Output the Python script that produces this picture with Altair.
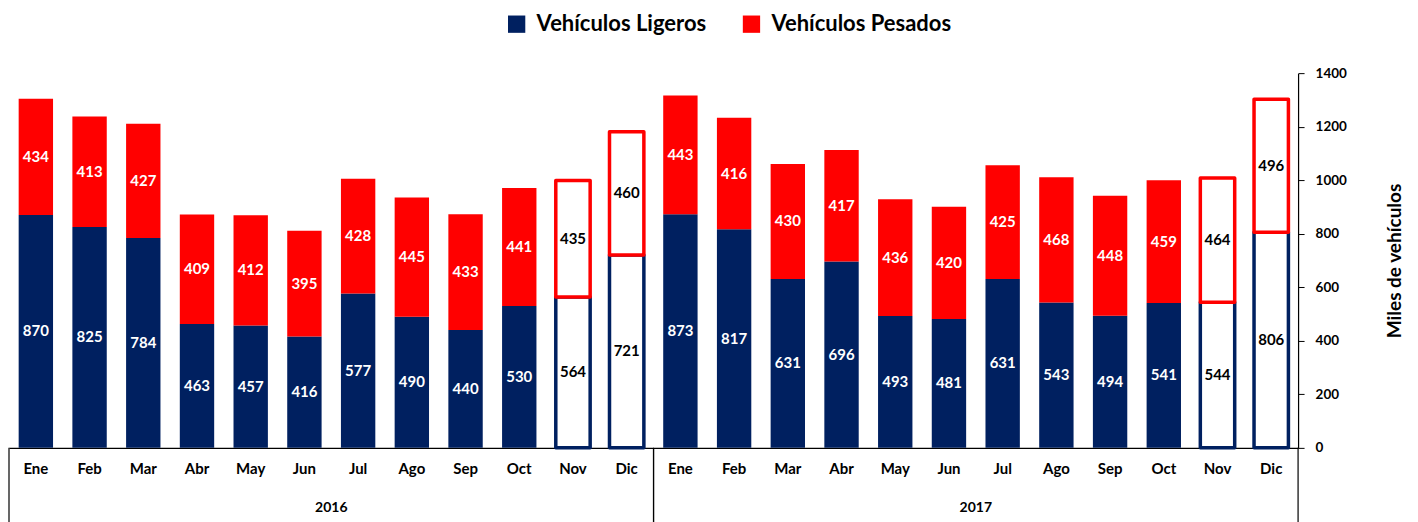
import altair as alt
import pandas as pd

meses = ["Ene", "Feb", "Mar", "Abr", "May", "Jun", "Jul", "Ago", "Sep", "Oct", "Nov", "Dic"]
anios = ["2016", "2017"]
ligeros_2016 = [870, 825, 784, 463, 457, 416, 577, 490, 440, 530, 564, 721]
pesados_2016 = [434, 413, 427, 409, 412, 395, 428, 445, 433, 441, 435, 460]
ligeros_2017 = [873, 817, 631, 696, 493, 481, 631, 543, 494, 541, 544, 806]
pesados_2017 = [443, 416, 430, 417, 436, 420, 425, 468, 448, 459, 464, 496]
meses_huecos = ["Nov", "Dic"]
series = ["Vehículos Ligeros", "Vehículos Pesados"]
colores = ["#002060", "#FF0000"]
y_ticks = [0, 200, 400, 600, 800, 1000, 1200, 1400]

FONT = "Lato"
W, H = 1290, 375

datos = {"2016": (ligeros_2016, pesados_2016), "2017": (ligeros_2017, pesados_2017)}
rows = []
keys = []
for anio in anios:
    lig, pes = datos[anio]
    for i, mes in enumerate(meses):
        key = f"{anio}-{mes}"
        keys.append(key)
        hueco = mes in meses_huecos
        rows.append(dict(key=key, serie=series[0], inicio=0, fin=lig[i], valor=lig[i],
                         medio=lig[i] / 2, hueco=hueco))
        rows.append(dict(key=key, serie=series[1], inicio=lig[i], fin=lig[i] + pes[i], valor=pes[i],
                         medio=lig[i] + pes[i] / 2, hueco=hueco))
df = pd.DataFrame(rows)
df_anios = pd.DataFrame({"anio": anios})

x_enc = alt.X(
    "key:N",
    sort=keys,
    scale=alt.Scale(domain=keys, paddingInner=0.36, paddingOuter=0.18),
    axis=alt.Axis(
        title=None,
        labelExpr="split(datum.label, '-')[1]",
        labelFont=FONT, labelFontSize=15, labelFontWeight="bold", labelColor="black",
        labelPadding=14, labelAngle=0, ticks=False, domainColor="black", domainWidth=1.2,
    ),
)
y_enc = alt.Y(
    "inicio:Q",
    scale=alt.Scale(domain=[0, 1400], nice=False),
    axis=alt.Axis(
        orient="right", values=y_ticks, grid=False, format="d",
        title="Miles de vehículos", titleFont=FONT, titleFontSize=19, titleFontWeight="bold",
        titleAngle=270, titlePadding=58, titleColor="black",
        labelFont=FONT, labelFontSize=13.5, labelFontWeight="bold", labelColor="black",
        labelPadding=11, tickSize=6, tickColor="black", domainColor="black", domainWidth=1.2,
    ),
)
color_scale = alt.Scale(domain=series, range=colores)

base = alt.Chart(df)

llenas = base.transform_filter("!datum.hueco").mark_bar().encode(
    x=x_enc,
    y=y_enc,
    y2="fin:Q",
    color=alt.Color(
        "serie:N", scale=color_scale, sort=series,
        legend=alt.Legend(
            title=None, orient="none", legendX=497, legendY=-60, direction="horizontal",
            symbolType="square", symbolSize=300, symbolStrokeWidth=0,
            labelFont=FONT, labelFontSize=22, labelFontWeight="bold", labelColor="black",
            labelOffset=9, columnPadding=34, labelLimit=0,
        ),
    ),
)

huecas = base.transform_filter("datum.hueco").mark_bar(
    fill="white", strokeWidth=3.5, strokeJoin="round"
).encode(
    x=alt.X("key:N", sort=keys),
    y="inicio:Q",
    y2="fin:Q",
    stroke=alt.Stroke("serie:N", scale=color_scale, legend=None),
)

textos = base.mark_text(font=FONT, fontSize=15, fontWeight="bold").encode(
    x=alt.X("key:N", sort=keys),
    y=alt.Y("medio:Q"),
    text=alt.Text("valor:Q"),
    color=alt.condition("datum.hueco", alt.value("black"), alt.value("white")),
)

barras = alt.layer(llenas, huecas, textos)

anio_base = alt.Chart(df_anios)
sep_izq = anio_base.mark_rule(color="black", strokeWidth=1.2).encode(
    x=alt.X("anio:N", bandPosition=0, scale=alt.Scale(paddingInner=0, paddingOuter=0), axis=None),
    y=alt.value(H), y2=alt.value(H + 80),
)
sep_der = anio_base.mark_rule(color="black", strokeWidth=1.2).encode(
    x=alt.X("anio:N", bandPosition=1),
    y=alt.value(H), y2=alt.value(H + 80),
)
etiquetas_anio = anio_base.mark_text(font=FONT, fontSize=14, fontWeight="bold", color="black").encode(
    x=alt.X("anio:N", bandPosition=0.5),
    y=alt.value(H + 60),
    text="anio:N",
)
anios_layer = alt.layer(sep_izq, sep_der, etiquetas_anio)

chart = alt.layer(barras, anios_layer).resolve_scale(x="independent").properties(
    width=W, height=H,
    padding={"left": 0, "top": 5, "right": 5, "bottom": 0},
    background="white",
).configure_view(stroke=None)

chart.save("out.html", embed_options={"renderer": "svg", "actions": False})
